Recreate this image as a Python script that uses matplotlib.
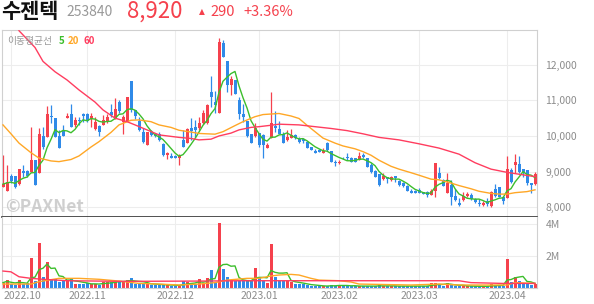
import numpy as np
import pandas as pd
import matplotlib
matplotlib.use("Agg")
import matplotlib.pyplot as plt
from matplotlib.transforms import blended_transform_factory

plt.rcParams['font.family'] = ['Noto Sans CJK KR', 'DejaVu Sans']

# daily candles, 2022-09-29 .. 2023-04-12 (index = trading day)
opens = [8580, 8470, 8890, 8890, 8650, 9020, 9020, 9000, 9330, 8950,
         10000, 9980, 10570, 10510, 10000, 10150, 10500, 10620, 10310, 10450,
         10620, 10620, 10470, 10190, 10280, 10310, 10380, 10660, 10470, 10950,
         10380, 10430, 11530, 10730, 10430, 10120, 9750, 10110, 10050, 10050,
         9780, 9470, 9440, 9440, 9370, 9900, 9810, 10210, 10260, 10220,
         10360, 10360, 11220, 10960, 10640, 12600, 12100, 11430, 11570, 11010,
         10620, 10430, 10060, 10000, 10080, 10030, 9670, 9940, 10290, 10200,
         10060, 9890, 9950, 10030, 9910, 9910, 9840, 9700, 9590, 9610,
         9530, 9810, 9590, 9280, 9230, 9390, 9420, 9390, 9370, 9330,
         9470, 9370, 9190, 9030, 8940, 8800, 8860, 8770, 8880, 8750,
         8670, 8600, 8460, 8470, 8490, 8420, 8440, 8350, 8460, 8970,
         8770, 8390, 8630, 8330, 8130, 8210, 8330, 8350, 8220, 8130,
         8070, 8190, 8040, 8500, 8580, 8300, 8250, 9050, 9190, 9210,
         9070, 9050, 8670, 8650]
highs = [9470, 9190, 8940, 8890, 9070, 9190, 9050, 10260, 9330, 10220,
         10260, 10840, 10870, 10510, 10170, 10310, 10640, 10900, 10540, 10520,
         10640, 10640, 10640, 10520, 10310, 10590, 10620, 10900, 11060, 11010,
         10590, 11100, 11530, 10730, 10530, 10220, 10120, 10170, 10080, 10120,
         9800, 9550, 9510, 9470, 9500, 10170, 10210, 10500, 10450, 10540,
         10730, 10900, 11670, 11260, 12750, 12690, 12100, 11670, 11570, 11100,
         10900, 10430, 10060, 10360, 10080, 10060, 9800, 11220, 10700, 10430,
         10120, 10170, 10190, 10050, 9960, 9950, 9860, 9700, 9640, 9630,
         9650, 9840, 9590, 9330, 9330, 9420, 9530, 9400, 9390, 9560,
         9510, 9370, 9230, 9050, 8940, 8950, 8860, 8890, 8880, 8770,
         8700, 8630, 8500, 8490, 8530, 8440, 8470, 8500, 9230, 9120,
         8790, 8950, 8770, 8500, 8250, 8440, 8440, 8390, 8250, 8220,
         8190, 8250, 8470, 8650, 8580, 8330, 9440, 9090, 9500, 9440,
         9080, 9050, 8670, 9000]
lows = [8580, 8470, 8670, 8530, 8630, 8860, 8860, 9000, 8630, 8950,
        9630, 9980, 10370, 9980, 9650, 10000, 10500, 10260, 10260, 10310,
        10400, 10400, 10260, 10170, 10000, 10310, 10360, 10520, 10470, 10640,
        10060, 10430, 10680, 10470, 10140, 9800, 9750, 10000, 9980, 9860,
        9440, 9350, 9370, 9370, 9190, 9680, 9810, 9890, 9980, 10170,
        10340, 10340, 10810, 10640, 10640, 12200, 11240, 11150, 11170, 10470,
        10400, 9980, 9800, 9980, 9700, 9390, 9650, 9940, 10120, 10060,
        9810, 9860, 9950, 9910, 9810, 9810, 9670, 9610, 9510, 9550,
        9530, 9590, 9280, 9170, 9210, 9350, 9330, 9260, 9260, 9330,
        9370, 9120, 8970, 8840, 8610, 8770, 8690, 8750, 8720, 8600,
        8580, 8470, 8390, 8400, 8390, 8360, 8300, 8350, 8300, 8790,
        8590, 8390, 8070, 8190, 8050, 8190, 8300, 8210, 8110, 8050,
        8050, 8050, 8020, 8300, 8280, 8090, 8250, 8690, 8950, 8950,
        8860, 8630, 8390, 8630]
closes = [8650, 8720, 8750, 8560, 9070, 8970, 8890, 9330, 8630, 10060,
          9700, 10620, 10520, 9980, 9650, 10000, 10560, 10260, 10450, 10430,
          10560, 10430, 10560, 10380, 10120, 10450, 10520, 10590, 10760, 10710,
          10520, 11100, 10730, 10560, 10170, 9840, 10120, 10020, 10000, 9890,
          9470, 9510, 9370, 9370, 9440, 9690, 10190, 10140, 10170, 10360,
          10640, 10870, 11090, 10870, 12640, 12200, 11430, 11600, 11170, 10620,
          10540, 10000, 9810, 10220, 9750, 9750, 9750, 10360, 10220, 10060,
          9810, 9980, 10020, 9930, 9840, 9860, 9670, 9610, 9510, 9550,
          9590, 9610, 9280, 9230, 9280, 9370, 9370, 9270, 9280, 9440,
          9400, 9140, 9000, 8860, 8630, 8880, 8790, 8840, 8810, 8630,
          8600, 8470, 8410, 8410, 8410, 8370, 8350, 8460, 9230, 8810,
          8600, 8690, 8300, 8210, 8070, 8330, 8360, 8220, 8160, 8080,
          8130, 8090, 8420, 8330, 8300, 8190, 9070, 8720, 9260, 9000,
          8950, 8670, 8630, 8920]
volume_m = [0.32, 0.48, 0.23, 0.17, 0.48, 0.23, 0.30, 1.90, 0.42, 2.84,
            0.69, 1.60, 0.53, 0.53, 0.38, 0.48, 0.48, 0.55, 0.23, 0.23,
            0.23, 0.27, 0.25, 0.23, 0.17, 0.38, 0.35, 0.38, 0.38, 0.44,
            0.38, 0.48, 0.59, 0.23, 0.30, 0.30, 0.23, 0.17, 0.17, 0.17,
            0.23, 0.17, 0.10, 0.10, 0.12, 0.44, 0.38, 0.30, 0.23, 0.53,
            0.30, 0.59, 1.10, 0.34, 4.10, 1.16, 0.69, 0.48, 0.44, 0.44,
            0.44, 0.44, 0.44, 1.24, 0.69, 0.44, 0.30, 2.75, 0.67, 0.44,
            0.44, 0.42, 0.36, 0.23, 0.23, 0.23, 0.17, 0.12, 0.10, 0.10,
            0.10, 0.10, 0.20, 0.10, 0.20, 0.10, 0.10, 0.10, 0.12, 0.10,
            0.10, 0.10, 0.10, 0.10, 0.17, 0.10, 0.10, 0.10, 0.10, 0.10,
            0.10, 0.10, 0.10, 0.10, 0.10, 0.10, 0.10, 0.27, 0.32, 0.23,
            0.10, 0.30, 0.15, 0.12, 0.10, 0.10, 0.10, 0.10, 0.08, 0.08,
            0.08, 0.08, 0.23, 0.15, 0.15, 0.10, 1.81, 0.36, 0.69, 0.40,
            0.30, 0.23, 0.20, 0.23]

# longer moving averages (need history before the window)
ma20_idx = [0, 2, 4, 7, 9, 12, 14, 17, 19, 22, 24, 27, 29, 32, 34, 37, 39, 42, 44,
            47, 49, 53, 55, 58, 60, 63, 65, 69, 72, 74, 76, 78, 80, 83, 85, 88,
            90, 92, 94, 97, 99, 102, 104, 107, 109, 112, 114, 117, 119, 122, 124,
            126, 128, 131, 133]
ma20_vals = [10310, 10060, 9800, 9530, 9380, 9300, 9280, 9340, 9440, 9690, 9840,
             10100, 10310, 10440, 10450, 10400, 10310, 10240, 10160, 10110, 10070,
             10050, 10120, 10290, 10400, 10540, 10600, 10630, 10560, 10490, 10300,
             10120, 9940, 9800, 9720, 9640, 9560, 9460, 9320, 9150, 9070, 8970,
             8900, 8790, 8770, 8680, 8610, 8520, 8450, 8390, 8370, 8370, 8410,
             8440, 8490]
ma60_idx = [4, 8, 10, 13, 16, 19, 23, 25, 28, 31, 33, 36, 39, 44, 47, 49, 52, 54,
            57, 59, 62, 64, 67, 69, 74, 78, 82, 86, 90, 94, 99, 104, 109, 114,
            118, 122, 126, 130, 133]
ma60_vals = [12950, 12480, 12090, 11800, 11570, 11290, 10950, 10730, 10500, 10400,
             10310, 10170, 10030, 9960, 9930, 9890, 9910, 10000, 10080, 10170,
             10240, 10260, 10300, 10330, 10310, 10260, 10210, 10150, 10060, 9960,
             9890, 9780, 9660, 9490, 9250, 9070, 8980, 8910, 8860]
vma20_idx = [0, 7, 9, 14, 19, 24, 29, 34, 39, 44, 49, 53, 56, 61, 64, 67, 69, 72,
             74, 77, 79, 84, 87, 89, 102, 109, 114, 122, 126, 128, 133]
vma20_vals = [0.23, 0.23, 0.38, 0.59, 0.59, 0.53, 0.42, 0.27, 0.23, 0.17, 0.23,
              0.32, 0.48, 0.59, 0.59, 0.74, 0.80, 0.84, 0.80, 0.59, 0.48, 0.44,
              0.36, 0.23, 0.17, 0.23, 0.17, 0.17, 0.17, 0.32, 0.27]
vma60_idx = [0, 2, 4, 7, 10, 16, 30, 50, 60, 75, 90, 114, 117, 125, 133]
vma60_vals = [1.05, 1.00, 0.69, 0.59, 0.53, 0.44, 0.40, 0.42, 0.44, 0.44, 0.44,
              0.44, 0.32, 0.27, 0.27]

month_idx = [2, 21, 43, 64, 84, 104, 126]
month_labels = ["2022.10", "2022.11", "2022.12", "2023.01", "2023.02", "2023.03", "2023.04"]

RED = "#f5414d"
BLUE = "#2f8ae8"
GREEN = "#3cbe2c"
ORANGE = "#ffa726"
PINK = "#ff3d5f"
GRID = "#ededed"
TXT = "#8c8c8c"

df = pd.DataFrame({"open": opens, "high": highs, "low": lows, "close": closes,
                   "vol": np.array(volume_m) * 1e6})
x = np.arange(len(df))
up = df["close"] >= df["open"]
colors = np.where(up, RED, BLUE)
ma5 = df["close"].rolling(5, min_periods=1).mean()
vma5 = df["vol"].rolling(5, min_periods=1).mean()

W, H = 594, 304
fig = plt.figure(figsize=(W / 100, H / 100), dpi=100)
ax = fig.add_axes([2 / W, 1 - 217.3 / H, 535 / W, 187.3 / H])
axv = fig.add_axes([2 / W, 1 - 287.7 / H, 535 / W, 70.4 / H])

for a in (ax, axv):
    a.set_xlim(-0.25, 133.5)
    a.set_xticks(month_idx)
    a.grid(True, color=GRID, lw=0.8)
    a.set_axisbelow(True)
    a.tick_params(axis="x", length=0, labelbottom=False)
    a.yaxis.tick_right()
    a.tick_params(axis="y", length=0, pad=6, labelsize=7.5, labelcolor=TXT)
    for s in a.spines.values():
        s.set_color("#d0d0d0")
        s.set_linewidth(0.8)

# price panel
ax.set_ylim(7720, 12970)
ax.set_yticks([8000, 9000, 10000, 11000, 12000])
ax.set_yticklabels([f"{v:,}" for v in [8000, 9000, 10000, 11000, 12000]])
ax.spines["bottom"].set_color("#333333")
ax.spines["bottom"].set_linewidth(1.2)

body = (df["close"] - df["open"]).abs().clip(lower=25)
bottom = df[["open", "close"]].min(axis=1)
ax.vlines(x, df["low"], df["high"], colors=colors, lw=0.9, zorder=2)
ax.bar(x, body, bottom=bottom, width=0.75, color=colors, zorder=3)

ax.plot(x, ma5, color=GREEN, lw=1.0, zorder=4)
ax.plot(ma20_idx, ma20_vals, color=ORANGE, lw=1.0, zorder=4)
ax.plot(ma60_idx, ma60_vals, color=PINK, lw=1.0, zorder=4)

# volume panel
axv.set_ylim(0, 4.44e6)
axv.set_yticks([2e6, 4e6])
axv.set_yticklabels(["2M", "4M"])
axv.spines["top"].set_visible(False)
axv.bar(x, df["vol"], width=0.75, color=colors, zorder=2)
axv.plot(x, vma5, color=GREEN, lw=1.0, zorder=3)
axv.plot(vma20_idx, np.array(vma20_vals) * 1e6, color=ORANGE, lw=1.0, zorder=3)
axv.plot(vma60_idx, np.array(vma60_vals) * 1e6, color=PINK, lw=1.0, zorder=3)

tr = blended_transform_factory(axv.transData, axv.transAxes)
for i, (m, lab) in enumerate(zip(month_idx, month_labels)):
    if i == 0:
        axv.text(0.002, -0.115, lab, transform=axv.transAxes, ha="left", va="center",
                 fontsize=7.5, color=TXT)
    else:
        axv.text(m, -0.115, lab, transform=tr, ha="center", va="center",
                 fontsize=7.5, color=TXT)

# header
fig.text(1 / W, 1 - 11.5 / H, "수젠텍", fontsize=15, fontweight="bold", color="#111111",
         va="center", ha="left")
fig.text(66 / W, 1 - 12 / H, "253840", fontsize=10, color="#999999", va="center", ha="left")
fig.text(127 / W, 1 - 11.5 / H, "8,920", fontsize=16, color=RED, va="center", ha="left")
fig.text(199 / W, 1 - 12 / H, "▲", fontsize=5.5, color=RED, va="center", ha="left",
         family=["DejaVu Sans"])
fig.text(210 / W, 1 - 12 / H, "290", fontsize=10.5, color=RED, va="center", ha="left")
fig.text(243 / W, 1 - 12 / H, "+3.36%", fontsize=10.5, color=RED, va="center", ha="left")

# legend
fig.text(7 / W, 1 - 41 / H, "이동평균선", fontsize=7, color="#999999", va="center", ha="left")
fig.text(59 / W, 1 - 41 / H, "5", fontsize=7, color=GREEN, va="center", ha="left", fontweight="bold")
fig.text(68 / W, 1 - 41 / H, "20", fontsize=7, color=ORANGE, va="center", ha="left", fontweight="bold")
fig.text(83 / W, 1 - 41 / H, "60", fontsize=7, color=PINK, va="center", ha="left", fontweight="bold")

# watermark
fig.text(5 / W, 1 - 207 / H, "©PAXNet", fontsize=12.5, fontweight="bold", color="#c4c4c4",
         alpha=0.8, va="center", ha="left")

fig.savefig("out.png", dpi=100)
